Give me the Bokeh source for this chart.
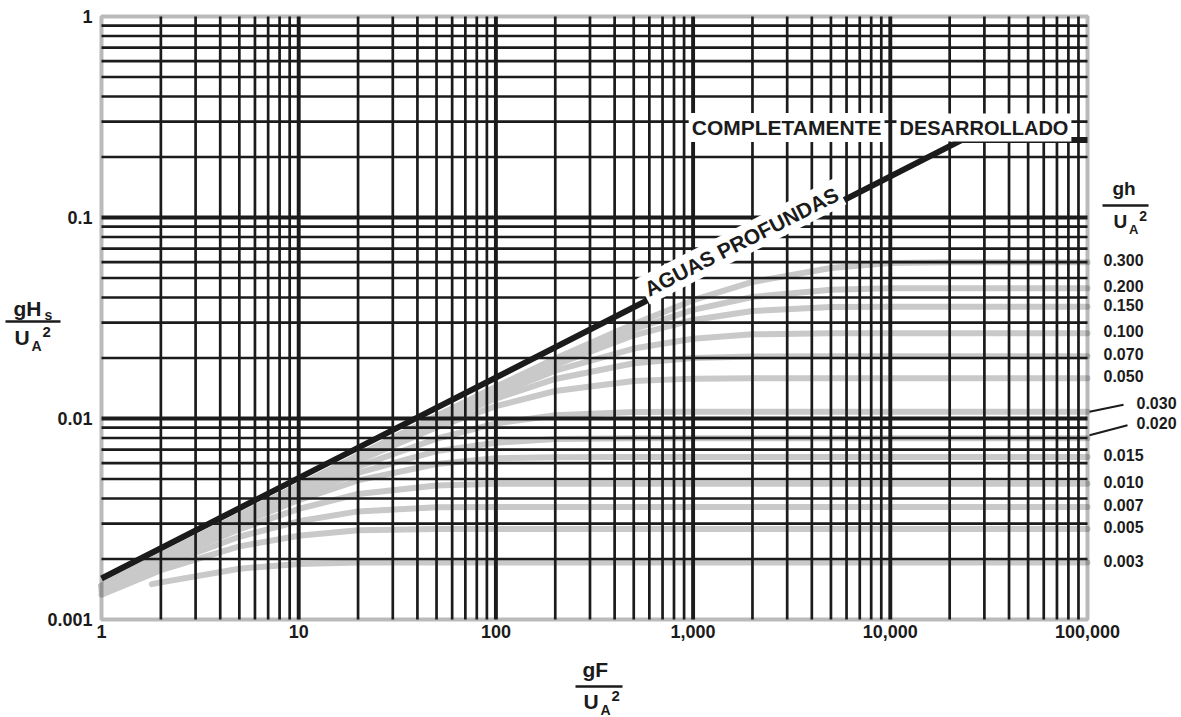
from bokeh.plotting import figure
from bokeh.models import Range1d, Label, Arrow, BoxAnnotation
from bokeh.embed import file_html
from bokeh.resources import INLINE

# ---------------- data ----------------
gF = [1, 2, 5, 10, 20, 50, 100, 200, 500, 1000, 2000, 5000, 10000, 20000, 50000, 100000]
gF_003 = [1.8, 2, 5, 10, 20, 50, 100, 200, 500, 1000, 2000, 5000, 10000, 20000, 50000, 100000]

H_003 = [0.00150, 0.00153, 0.00179, 0.00189, 0.00192, 0.00192, 0.00192, 0.00192,
         0.00192, 0.00192, 0.00192, 0.00192, 0.00192, 0.00192, 0.00192, 0.00192]
H_005 = [0.00133, 0.00176, 0.00231, 0.00261, 0.00278, 0.00282, 0.00282, 0.00282,
         0.00282, 0.00282, 0.00282, 0.00282, 0.00282, 0.00282, 0.00282, 0.00282]
H_007 = [0.00138, 0.00185, 0.00258, 0.00308, 0.00345, 0.00362, 0.00363, 0.00363,
         0.00363, 0.00363, 0.00363, 0.00363, 0.00363, 0.00363, 0.00363, 0.00363]
H_010 = [0.00142, 0.00194, 0.00281, 0.00355, 0.00421, 0.00464, 0.00473, 0.00474,
         0.00474, 0.00474, 0.00474, 0.00474, 0.00474, 0.00474, 0.00474, 0.00474]
H_015 = [0.00144, 0.00200, 0.00299, 0.00393, 0.00492, 0.00594, 0.00634, 0.00641,
         0.00643, 0.00643, 0.00643, 0.00643, 0.00643, 0.00643, 0.00643, 0.00643]
H_020 = [0.00145, 0.00203, 0.00309, 0.00412, 0.00536, 0.00688, 0.00758, 0.00790,
         0.00797, 0.00798, 0.00798, 0.00798, 0.00798, 0.00798, 0.00798, 0.00798]
H_030 = [0.00146, 0.00205, 0.00318, 0.00434, 0.00576, 0.00793, 0.00945, 0.01038,
         0.01077, 0.01080, 0.01081, 0.01081, 0.01081, 0.01081, 0.01081, 0.01081]
H_050 = [0.00147, 0.00207, 0.00324, 0.00450, 0.00617, 0.00904, 0.01152, 0.01370,
         0.01535, 0.01579, 0.01584, 0.01584, 0.01584, 0.01584, 0.01584, 0.01584]
H_070 = [0.00147, 0.00207, 0.00326, 0.00456, 0.00633, 0.00946, 0.01256, 0.01573,
         0.01882, 0.02000, 0.02034, 0.02038, 0.02038, 0.02038, 0.02038, 0.02038]
H_100 = [0.00147, 0.00208, 0.00327, 0.00460, 0.00643, 0.00982, 0.01317, 0.01730,
         0.02228, 0.02492, 0.02622, 0.02658, 0.02659, 0.02659, 0.02659, 0.02659]
H_150 = [0.00147, 0.00208, 0.00328, 0.00463, 0.00650, 0.01008, 0.01382, 0.01845,
         0.02594, 0.03092, 0.03428, 0.03582, 0.03594, 0.03595, 0.03595, 0.03595]
H_200 = [0.00147, 0.00208, 0.00328, 0.00463, 0.00653, 0.01019, 0.01412, 0.01919,
         0.02786, 0.03473, 0.04024, 0.04372, 0.04442, 0.04449, 0.04449, 0.04449]
H_300 = [0.00147, 0.00208, 0.00329, 0.00464, 0.00655, 0.01029, 0.01438, 0.01988,
         0.02949, 0.03876, 0.04780, 0.05606, 0.05932, 0.05983, 0.05989, 0.05989]

depth_labels = ["0.300", "0.200", "0.150", "0.100", "0.070", "0.050", "0.030",
                "0.020", "0.015", "0.010", "0.007", "0.005", "0.003"]
series = [H_300, H_200, H_150, H_100, H_070, H_050, H_030,
          H_020, H_015, H_010, H_007, H_005, H_003]
series_x = [gF] * 12 + [gF_003]

deep_x = [1, 23100, 100000]
deep_y = [0.0016, 0.2433, 0.2433]

x_ticks = [1, 10, 100, 1000, 10000, 100000]
x_tick_labels = ["1", "10", "100", "1,000", "10,000", "100,000"]
y_ticks = [0.001, 0.01, 0.1, 1]
y_tick_labels = ["0.001", "0.01", "0.1", "1"]

x_minor = [k * 10 ** e for e in range(0, 5) for k in range(2, 10)]
y_minor = [k * 10.0 ** e for e in range(-3, 0) for k in range(2, 10)]
x_decades = x_ticks[1:-1]
y_decades = y_ticks[1:-1]

# ---------------- layout: the log frame occupies page px FL..FL+FW, FT..FT+FH ----------------
W, H = 1181, 717
FL, FT, FW, FH = 101, 16, 986, 603


def dx(px):
    return 10 ** (5.0 * (px - FL) / FW)


def dy(py):
    return 10 ** (-3.0 + 3.0 * (FT + FH - py) / FH)


def up(yv, pix):
    return yv * 10 ** (3.0 * pix / FH)


FONT = "Liberation Sans"
INK = "#1b1b1b"

p = figure(width=W, height=H, x_axis_type="log", y_axis_type="log",
           x_range=Range1d(dx(0), dx(W)), y_range=Range1d(dy(H), dy(0)),
           x_axis_location=None, y_axis_location=None,
           output_backend="svg", toolbar_location=None, min_border=0)
p.background_fill_color = "white"
p.border_fill_color = "white"
p.outline_line_color = None
p.xgrid.visible = False
p.ygrid.visible = False

ymin, ymax = y_ticks[0], y_ticks[-1]
xmin, xmax = x_ticks[0], x_ticks[-1]

# shallow-water curves (grey), drawn beneath the grid
for xs, ys in zip(series_x, series):
    p.line(xs, ys, line_color="#c9c9c9", line_width=6, line_cap="round", level="image")

# log grid
p.segment(x0=x_minor, y0=[ymin] * len(x_minor), x1=x_minor, y1=[ymax] * len(x_minor),
          line_color=INK, line_width=2.7, level="underlay")
p.segment(x0=[xmin] * len(y_minor), y0=y_minor, x1=[xmax] * len(y_minor), y1=y_minor,
          line_color=INK, line_width=2.7, level="underlay")
p.segment(x0=x_decades, y0=[ymin] * len(x_decades), x1=x_decades, y1=[ymax] * len(x_decades),
          line_color=INK, line_width=3.9, level="underlay")
p.segment(x0=[xmin] * len(y_decades), y0=y_decades, x1=[xmax] * len(y_decades), y1=y_decades,
          line_color=INK, line_width=3.9, level="underlay")

# deep-water line
p.line(deep_x, deep_y, line_color=INK, line_width=6)

# frame
p.add_layout(BoxAnnotation(left=xmin, right=xmax, bottom=ymin, top=ymax,
                           fill_color=None, line_color=INK, line_width=4))

common = dict(text_font=FONT, text_font_style="bold", text_color=INK)

# tick labels
for xv, lab in zip(x_ticks, x_tick_labels):
    p.add_layout(Label(x=xv, y=dy(624), text=lab, text_align="center", text_baseline="top",
                       text_font_size="18px", **common))
for yv, lab in zip(y_ticks, y_tick_labels):
    p.add_layout(Label(x=dx(92), y=yv, text=lab, text_align="right", text_baseline="middle",
                       text_font_size="18px", **common))

# labels on the chart
p.add_layout(Label(x=dx(741), y=dy(241), text="AGUAS PROFUNDAS", angle=27, angle_units="deg",
                   text_align="center", text_baseline="middle", text_font_size="21px",
                   background_fill_color="white", padding=3, **common))
p.add_layout(Label(x=dx(884), y=dy(127), text="COMPLETAMENTE", text_align="right",
                   text_baseline="middle", text_font_size="21px",
                   background_fill_color="white", padding=3, **common))
p.add_layout(Label(x=dx(896), y=dy(127), text="DESARROLLADO", text_align="left",
                   text_baseline="middle", text_font_size="20px",
                   background_fill_color="white", padding=3, **common))

# right-hand labels of gh/UA^2
for lab, ys in zip(depth_labels, series):
    asym = ys[-1]
    if lab == "0.030":
        p.add_layout(Arrow(end=None, x_start=dx(1089), y_start=asym, x_end=dx(1123),
                           y_end=up(asym, 7), line_width=2, line_color=INK))
        p.add_layout(Label(x=dx(1136), y=up(asym, 9), text=lab, text_align="left",
                           text_baseline="middle", text_font_size="16px", **common))
    elif lab == "0.020":
        p.add_layout(Arrow(end=None, x_start=dx(1089), y_start=up(asym, 3), x_end=dx(1127),
                           y_end=up(asym, 13), line_width=2, line_color=INK))
        p.add_layout(Label(x=dx(1136), y=up(asym, 15), text=lab, text_align="left",
                           text_baseline="middle", text_font_size="16px", **common))
    else:
        p.add_layout(Label(x=dx(1103), y=up(asym, 2), text=lab, text_align="left",
                           text_baseline="middle", text_font_size="16px", **common))


def frac(top, sub_top, left, c_top, bar_y, bar_l, bar_r, c_u, size, sub_size):
    """Stacked fraction  top / U_A^2, positions given as page-pixel centres."""
    def lab(x, y, t, s):
        p.add_layout(Label(x=dx(x), y=dy(y), text=t, text_align="left",
                           text_baseline="middle", text_font_size=f"{s}px", **common))
    lab(left, c_top, top, size)
    if sub_top:
        lab(left + 31, c_top + 6, sub_top, sub_size)
    p.add_layout(Arrow(end=None, x_start=dx(bar_l), y_start=dy(bar_y), x_end=dx(bar_r),
                       y_end=dy(bar_y), line_width=2.5, line_color=INK))
    lab(left + 1, c_u, "U", size)
    lab(left + 2 + size * 0.76, c_u + 8, "A", sub_size)
    lab(left + 3 + size * 0.76 + sub_size * 0.72, c_u - 6, "2", sub_size + 1)


# y-axis title gHs / UA^2
frac("gH", "s", 13, 308, 321, 5, 60, 337, 21, 14)
# x-axis title gF / UA^2
frac("gF", None, 582, 669, 686, 575, 622, 701, 21, 14)
# right header gh / UA^2
frac("gh", None, 1112, 188, 205, 1102, 1148, 221, 19, 13)

open("out.html", "w").write(file_html(p, INLINE))
